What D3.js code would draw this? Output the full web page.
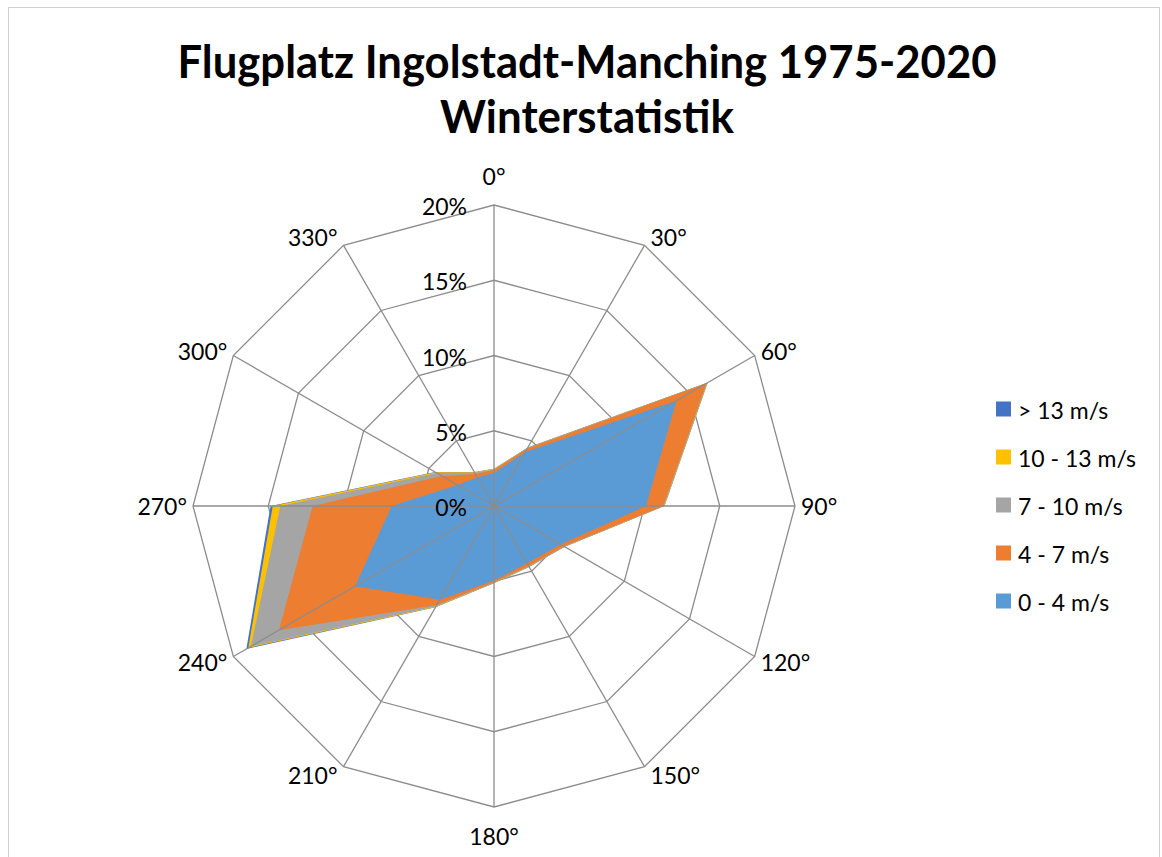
<!DOCTYPE html>
<html>
  <head>
    <meta charset="utf-8">
    <title>Flugplatz Ingolstadt-Manching Winterstatistik</title>
    <script src="https://cdn.jsdelivr.net/npm/d3@7"></script>
    <style>
      html, body { margin: 0; padding: 0; background: #fff; }
      svg text { font-family: Lato, "Open Sans", sans-serif; fill: #000; }
    </style>
  </head>
  <body>
    <svg id="chart" width="1162" height="857"></svg>
    <script>
      // wind directions (degrees) and the share per speed band in percent
      var directions = ["0°", "30°", "60°", "90°", "120°", "150°", "180°", "210°", "240°", "270°", "300°", "330°"];
      var band0to4   = [2.2, 4.15, 14.0, 10.1, 5.1, 4.4, 4.95, 7.2, 10.66, 6.8, 2.8, 2.2];
      var band4to7   = [0.2, 0.25, 2.3, 1.15, 0.25, 0.2, 0.1, 0.4, 5.84, 5.25, 1.2, 0.25];
      var band7to10  = [0.05, 0.05, 0.05, 0.05, 0.05, 0.05, 0.05, 0.1, 2.15, 2.15, 0.4, 0.1];
      var band10to13 = [0.02, 0.02, 0.03, 0.02, 0.02, 0.02, 0.02, 0.05, 0.2, 0.5, 0.1, 0.03];
      var band13up   = [0.01, 0.01, 0.02, 0.01, 0.01, 0.01, 0.01, 0.02, 0.15, 0.15, 0.02, 0.02];
      var seriesNames = ["> 13 m/s", "10 - 13 m/s", "7 - 10 m/s", "4 - 7 m/s", "0 - 4 m/s"];
      var ringTicks = [0, 5, 10, 15, 20];

      var colors = {
        "0 - 4 m/s": "#5b9bd5",
        "4 - 7 m/s": "#ed7d31",
        "7 - 10 m/s": "#a5a5a5",
        "10 - 13 m/s": "#ffc000",
        "> 13 m/s": "#4472c4"
      };

      var svg = d3.select("#chart");
      var cx = 494, cy = 506, R = 301;
      var gridColor = "#8c8c8c";

      // frame
      svg.append("rect")
        .attr("x", 8.5).attr("y", 7.5)
        .attr("width", 1151).attr("height", 900)
        .attr("fill", "none").attr("stroke", "#d0d0d0").attr("stroke-width", 1);

      var r = d3.scaleLinear().domain([0, 20]).range([0, R]);
      var angle = d3.scalePoint().domain(directions).range([0, 2 * Math.PI * 11 / 12]);

      function pt(dir, val) {
        var a = angle(dir);
        return [cx + r(val) * Math.sin(a), cy - r(val) * Math.cos(a)];
      }

      // cumulative stacks, innermost first
      var bands = [band0to4, band4to7, band7to10, band10to13, band13up];
      var bandNames = ["0 - 4 m/s", "4 - 7 m/s", "7 - 10 m/s", "10 - 13 m/s", "> 13 m/s"];
      var stacks = [];
      var running = directions.map(function () { return 0; });
      bands.forEach(function (b, k) {
        running = running.map(function (v, i) { return v + b[i]; });
        stacks.push({ name: bandNames[k], values: running.slice() });
      });

      // rings
      var line = d3.line().curve(d3.curveLinearClosed);
      svg.append("g").selectAll("path")
        .data(ringTicks.filter(function (t) { return t > 0; }))
        .enter().append("path")
        .attr("d", function (t) { return line(directions.map(function (d) { return pt(d, t); })); })
        .attr("fill", "none")
        .attr("stroke", gridColor)
        .attr("stroke-width", 1.3);

      // filled areas, outermost drawn first
      svg.append("g").selectAll("path")
        .data(stacks.slice().reverse())
        .enter().append("path")
        .attr("d", function (s) { return line(directions.map(function (d, i) { return pt(d, s.values[i]); })); })
        .attr("fill", function (s) { return colors[s.name]; })
        .attr("stroke", "none");

      // spokes
      svg.append("g").selectAll("line")
        .data(directions)
        .enter().append("line")
        .attr("x1", cx).attr("y1", cy)
        .attr("x2", function (d) { return pt(d, 20)[0]; })
        .attr("y2", function (d) { return pt(d, 20)[1]; })
        .attr("stroke", gridColor)
        .attr("stroke-width", 1.3);

      // ring labels
      svg.append("g").selectAll("text")
        .data(ringTicks)
        .enter().append("text")
        .attr("x", cx - 27)
        .attr("y", function (t) { return cy - r(t) + 1; })
        .attr("text-anchor", "end")
        .attr("dominant-baseline", "central")
        .attr("font-size", 23)
        .text(function (t) { return t + "%"; });

      // direction labels, placed next to the outer vertex
      svg.append("g").selectAll("text")
        .data(directions)
        .enter().append("text")
        .each(function (d) {
          var a = angle(d), s = Math.sin(a), c = Math.cos(a);
          var v = pt(d, 20);
          var el = d3.select(this);
          if (Math.abs(s) < 0.1) {
            el.attr("x", v[0]).attr("y", v[1] - 29 * c).attr("text-anchor", "middle");
          } else {
            el.attr("x", v[0] + (s > 0 ? 6 : -6)).attr("y", v[1] - 10 * c)
              .attr("text-anchor", s > 0 ? "start" : "end");
          }
        })
        .attr("dominant-baseline", "central")
        .attr("font-size", 23)
        .text(function (d) { return d; });

      // title
      var title = svg.append("g").attr("font-weight", "bold").attr("font-size", 46);
      title.append("text").attr("x", 587).attr("y", 78).attr("text-anchor", "middle")
        .attr("textLength", 819).attr("lengthAdjust", "spacingAndGlyphs")
        .text("Flugplatz Ingolstadt-Manching 1975-2020");
      title.append("text").attr("x", 587).attr("y", 133).attr("text-anchor", "middle")
        .attr("textLength", 294).attr("lengthAdjust", "spacingAndGlyphs")
        .text("Winterstatistik");

      // legend
      var legend = svg.append("g").selectAll("g")
        .data(seriesNames)
        .enter().append("g")
        .attr("transform", function (d, i) { return "translate(996," + (409 + i * 48) + ")"; });
      legend.append("rect")
        .attr("x", 0).attr("y", -7.5).attr("width", 15).attr("height", 15)
        .attr("fill", function (d) { return colors[d]; });
      legend.append("text")
        .attr("x", 22).attr("y", 1)
        .attr("dominant-baseline", "central")
        .attr("font-size", 23)
        .text(function (d) { return d; });
    </script>
  </body>
</html>
